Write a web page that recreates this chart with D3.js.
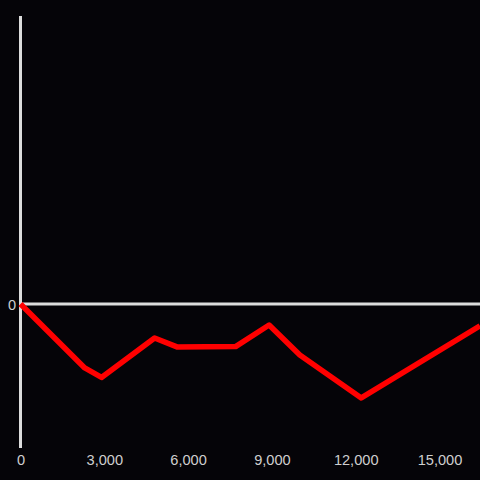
<!DOCTYPE html>
<html>
<head>
<meta charset="utf-8">
<script src="https://cdn.jsdelivr.net/npm/d3@7"></script>
<style>
  html, body { margin: 0; padding: 0; background: #050408; }
  svg { display: block; }
</style>
</head>
<body>
<div id="chart"></div>
<script>
// Data
const xValues = [0, 2300, 2900, 4800, 5600, 7700, 8900, 10000, 12200, 16450];
const yValues = [0, -22.2, -25.5, -11.8, -14.9, -14.8, -7.3, -17.7, -32.6, -7.6];
const xTicks = [0, 3000, 6000, 9000, 12000, 15000];
const yTicks = [0];

const W = 480, H = 480;
const svg = d3.select("#chart").append("svg")
  .attr("width", W).attr("height", H)
  .style("background", "#050408");

const x = d3.scaleLinear().domain([0, 16450]).range([20.5, 480]);
const y = d3.scaleLinear().domain([-50, 100]).range([448, 16]);

const axisColor = "#dcdcdc";
const labelColor = "#cfcfcf";
const font = "'Liberation Sans', Arial, sans-serif";

// Y axis line
svg.append("line")
  .attr("x1", x(0)).attr("x2", x(0))
  .attr("y1", y(100)).attr("y2", y(-50))
  .attr("stroke", axisColor).attr("stroke-width", 3);

// Zero line
svg.append("line")
  .attr("x1", x(0) - 1.5).attr("x2", W)
  .attr("y1", y(0)).attr("y2", y(0))
  .attr("stroke", axisColor).attr("stroke-width", 3);

// X tick labels
const xAxis = d3.axisBottom(x).tickValues(xTicks).tickFormat(d3.format(",")).tickSize(0).tickPadding(0);
const gx = svg.append("g").attr("transform", `translate(0, 455)`).call(xAxis);
gx.select(".domain").remove();
gx.selectAll("text")
  .attr("fill", labelColor)
  .attr("font-family", font)
  .attr("font-size", 14.6)
  .attr("dy", "0.71em");

// Y tick labels
const yAxis = d3.axisLeft(y).tickValues(yTicks).tickSize(0).tickPadding(0);
const gy = svg.append("g").attr("transform", `translate(16, 1)`).call(yAxis);
gy.select(".domain").remove();
gy.selectAll("text")
  .attr("fill", labelColor)
  .attr("font-family", font)
  .attr("font-size", 14.6);

// Line
const data = xValues.map((v, i) => ({ x: v, y: yValues[i] }));
const line = d3.line().x(d => x(d.x)).y(d => y(d.y));
svg.append("path")
  .datum(data)
  .attr("d", line)
  .attr("fill", "none")
  .attr("stroke", "#ff0000")
  .attr("stroke-width", 5.5)
  .attr("stroke-linejoin", "round")
  .attr("stroke-linecap", "butt");
</script>
</body>
</html>
